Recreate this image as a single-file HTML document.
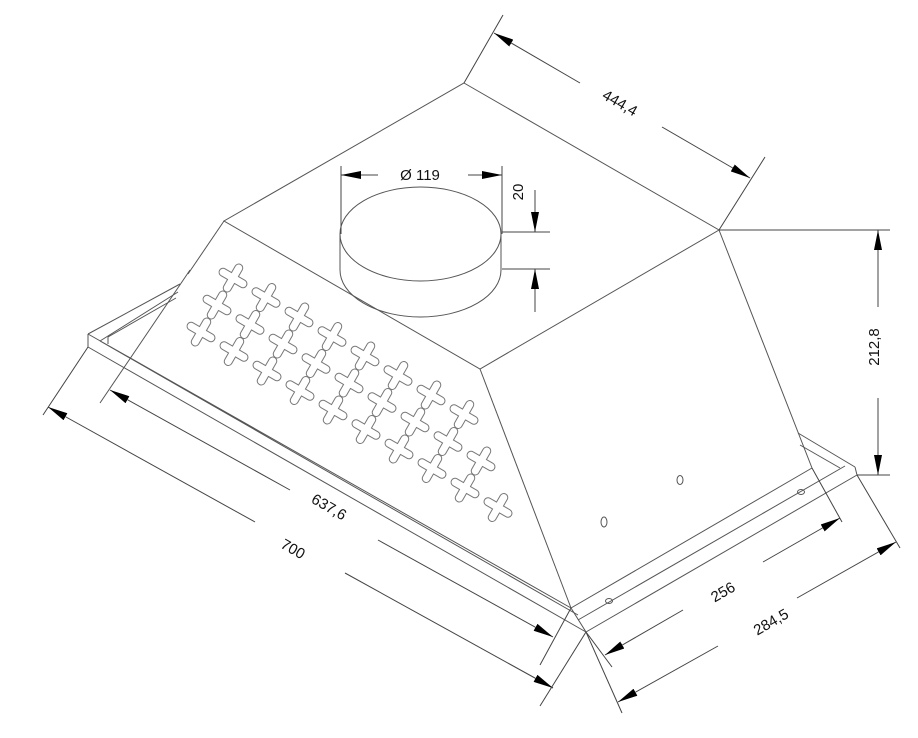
<!DOCTYPE html>
<html><head><meta charset="utf-8"><style>
html,body{margin:0;padding:0;background:#fff;}
svg{display:block;}
text{font-family:"Liberation Sans",sans-serif;font-size:15px;fill:#111;}
</style></head><body>
<svg width="918" height="738" viewBox="0 0 918 738" xmlns="http://www.w3.org/2000/svg">
<defs>
<marker id="a" viewBox="0 0 20 8" refX="20" refY="4" markerWidth="20" markerHeight="8" markerUnits="userSpaceOnUse" orient="auto"><path d="M0,0 L20,4 L0,8 Z" fill="#000"/></marker>
<path id="cr" d="M-11.5,0 H11.5 M0,-11.5 V11.5"/>
<g id="grid">
<g transform="translate(233,278)">
<g>
<use href="#cr" transform="translate(0,0) rotate(30)"/><use href="#cr" transform="translate(33,19.5) rotate(30)"/><use href="#cr" transform="translate(66,39) rotate(30)"/><use href="#cr" transform="translate(99,58.5) rotate(30)"/><use href="#cr" transform="translate(132,78) rotate(30)"/><use href="#cr" transform="translate(165,97.5) rotate(30)"/><use href="#cr" transform="translate(198,117) rotate(30)"/><use href="#cr" transform="translate(231,136.5) rotate(30)"/>
</g>
<g transform="translate(-16,27)">
<use href="#cr" transform="translate(0,0) rotate(30)"/><use href="#cr" transform="translate(33,19.5) rotate(30)"/><use href="#cr" transform="translate(66,39) rotate(30)"/><use href="#cr" transform="translate(99,58.5) rotate(30)"/><use href="#cr" transform="translate(132,78) rotate(30)"/><use href="#cr" transform="translate(165,97.5) rotate(30)"/><use href="#cr" transform="translate(198,117) rotate(30)"/><use href="#cr" transform="translate(231,136.5) rotate(30)"/><use href="#cr" transform="translate(264,156) rotate(30)"/>
</g>
<g transform="translate(-32,54)">
<use href="#cr" transform="translate(0,0) rotate(30)"/><use href="#cr" transform="translate(33,19.5) rotate(30)"/><use href="#cr" transform="translate(66,39) rotate(30)"/><use href="#cr" transform="translate(99,58.5) rotate(30)"/><use href="#cr" transform="translate(132,78) rotate(30)"/><use href="#cr" transform="translate(165,97.5) rotate(30)"/><use href="#cr" transform="translate(198,117) rotate(30)"/><use href="#cr" transform="translate(231,136.5) rotate(30)"/><use href="#cr" transform="translate(264,156) rotate(30)"/><use href="#cr" transform="translate(297,175.5) rotate(30)"/>
</g>
</g>
</g>
</defs>
<g stroke="#555" stroke-width="1" fill="none">
<path d="M464,83 L719,230 L480,369 L224,221 Z"/>
<path d="M480,369 L571,608"/>
<path d="M719,230 L812,468"/>
<path d="M190,270 L100,403"/>
<path d="M224,221 L188,274"/>
<path d="M88,334 L180,284 M88,334 L88,347 M100,341 L178,292 M108,337 L176,298 M108,337 L108,344"/>
<path d="M88,334 L571,608 M100,341 L578,615 M88,347 L586,632"/>
<path d="M571,608 L812,468 M578,620 L845,466 M586,632 L857,475"/>
<path d="M798,433 L855,467 M800,445 L840,468 M855,467 L857,475"/>
<path d="M571,608 L586,632"/>
<ellipse cx="604" cy="522" rx="3" ry="5"/>
<ellipse cx="680" cy="480" rx="3" ry="4.5"/>
<ellipse cx="801" cy="492" rx="3.5" ry="2.5"/>
<ellipse cx="609" cy="601" rx="3.5" ry="2.5"/>
<path d="M340,234 L340,270 M501,234 L501,270"/>
<path d="M340,270 A80.5,47 0 0 0 501,270"/>
<ellipse cx="420.5" cy="234" rx="80.5" ry="47" fill="#fff"/>
</g>
<use href="#grid" stroke="#777" stroke-width="9" stroke-linecap="round" fill="none"/>
<use href="#grid" stroke="#fff" stroke-width="7" stroke-linecap="round" fill="none"/>
<g stroke="#444" stroke-width="1" fill="none">
<path d="M464,83 L503,15 M719,230 L765,157"/>
<path d="M580,83 L494,33" marker-end="url(#a)"/>
<path d="M662,127 L750,178" marker-end="url(#a)"/>
<path d="M341,234 L341,166 M502,234 L502,166"/>
<path d="M378,175 L341,175" marker-end="url(#a)"/>
<path d="M468,175 L502,175" marker-end="url(#a)"/>
<path d="M502,232 L550,232 M502,269 L550,269"/>
<path d="M535,190 L535,232" marker-end="url(#a)"/>
<path d="M535,312 L535,269" marker-end="url(#a)"/>
<path d="M719,230 L890,230 M857,475 L890,475"/>
<path d="M878,307 L878,230" marker-end="url(#a)"/>
<path d="M878,398 L878,475" marker-end="url(#a)"/>
<path d="M290,490 L110,390" marker-end="url(#a)"/>
<path d="M378,540 L553,637" marker-end="url(#a)"/>
<path d="M571,608 L540,665"/>
<path d="M88,347 L43,415"/>
<path d="M255,522 L48,407" marker-end="url(#a)"/>
<path d="M345,573 L553,688" marker-end="url(#a)"/>
<path d="M586,632 L540,706"/>
<path d="M812,468 L842,522"/>
<path d="M586,632 L612,667"/>
<path d="M683,610 L605,655" marker-end="url(#a)"/>
<path d="M763,562 L840,518" marker-end="url(#a)"/>
<path d="M586,632 L622,713"/>
<path d="M857,475 L900,548"/>
<path d="M718,646 L618,702" marker-end="url(#a)"/>
<path d="M797,598 L896,542" marker-end="url(#a)"/>
</g>
<text x="620" y="108" text-anchor="middle" transform="rotate(30 620 103)">444,4</text>
<text x="420" y="180" text-anchor="middle">Ø 119</text>
<text x="528" y="197" text-anchor="middle" transform="rotate(-90 523 197)">20</text>
<text x="884" y="352" text-anchor="middle" transform="rotate(-90 879 352)">212,8</text>
<text x="329" y="512" text-anchor="middle" transform="rotate(30 329 507)">637,6</text>
<text x="293" y="554" text-anchor="middle" transform="rotate(30 293 549)">700</text>
<text x="723" y="597" text-anchor="middle" transform="rotate(-30 723 592)">256</text>
<text x="771" y="627" text-anchor="middle" transform="rotate(-30 771 622)">284,5</text>
</svg>
</body></html>
